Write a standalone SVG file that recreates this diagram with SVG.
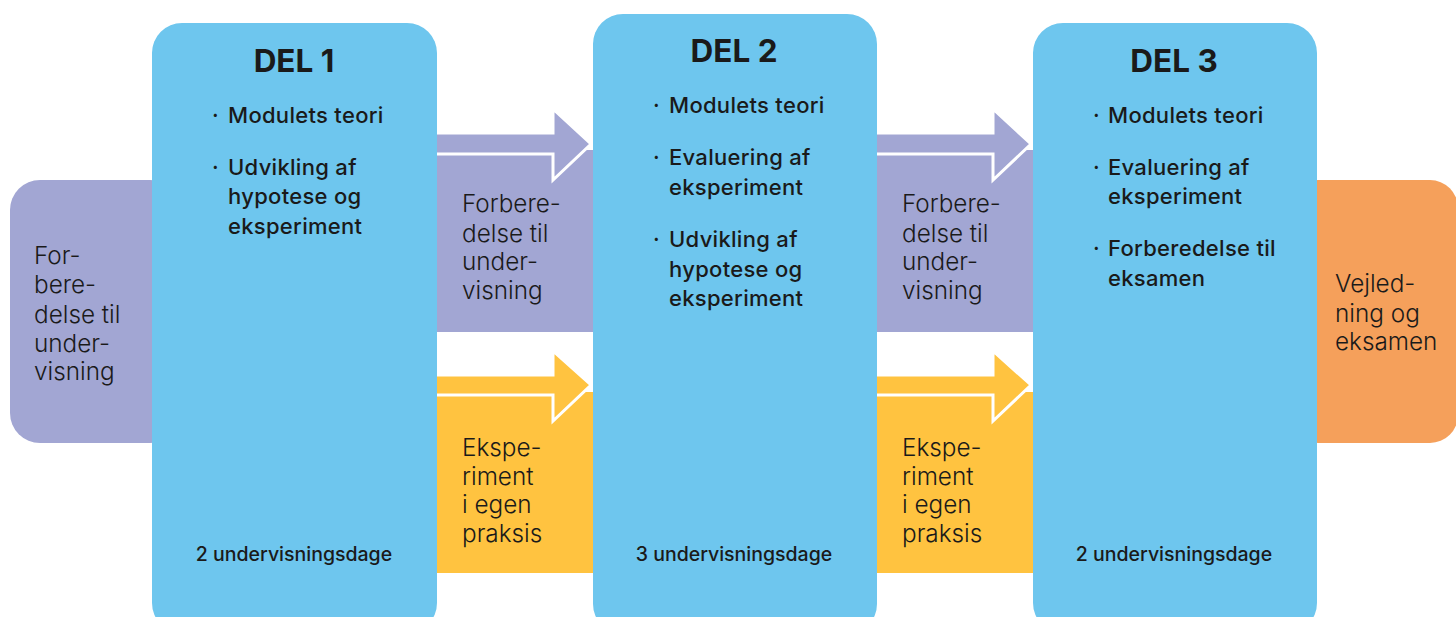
<svg xmlns="http://www.w3.org/2000/svg" width="1456" height="617" viewBox="0 0 1456 617">
<style>
.del{fill:#6EC6EE}
.pur{fill:#A2A6D3}
.yel{fill:#FFC340}
.ora{fill:#F5A05B}
.arr{stroke:#fff;stroke-width:3;stroke-linejoin:miter}
.t{font-family:Inter,"Liberation Sans",sans-serif;fill:#1a1a1a}
.title{font-size:31.5px;font-weight:700;text-anchor:middle}
.item{font-size:22px;font-weight:500;letter-spacing:0.3px}
.days{font-size:19.5px;font-weight:500;text-anchor:middle}
.lt{font-size:24.3px;font-weight:300}
</style>
<rect width="1456" height="617" fill="#fff"/>
<g id="node-pre">
<rect class="pur" x="10" y="180" width="170" height="263" rx="30"/>
<text class="t lt"><tspan x="34" y="264">For-</tspan><tspan x="34" y="293">bere-</tspan><tspan x="34" y="323">delse til</tspan><tspan x="34" y="352">under-</tspan><tspan x="34" y="380">visning</tspan></text>
</g>
<g id="node-post">
<rect class="ora" x="1290" y="180" width="168" height="263" rx="28"/>
<text class="t lt"><tspan x="1335" y="292">Vejled-</tspan><tspan x="1335" y="322">ning og</tspan><tspan x="1335" y="350">eksamen</tspan></text>
</g>
<g id="connectors">
<g id="conn-prep-1">
<rect class="pur" x="430" y="150" width="170" height="182"/>
<polygon class="pur arr" points="430,133 553,133 553,109 591,144 553,180 553,154 430,154"/>
<text class="t lt"><tspan x="462" y="212">Forbere-</tspan><tspan x="462" y="242">delse til</tspan><tspan x="462" y="270">under-</tspan><tspan x="462" y="299">visning</tspan></text>
</g>
<g id="conn-exp-1">
<rect class="yel" x="430" y="392" width="170" height="181"/>
<polygon class="yel arr" points="430,375 553,375 553,351 591,385 553,421 553,395 430,395"/>
<text class="t lt"><tspan x="462" y="456">Ekspe-</tspan><tspan x="462" y="485">riment</tspan><tspan x="462" y="513">i egen</tspan><tspan x="462" y="542">praksis</tspan></text>
</g>
<g id="conn-prep-2">
<rect class="pur" x="870" y="150" width="170" height="182"/>
<polygon class="pur arr" points="870,133 993,133 993,109 1031,144 993,180 993,154 870,154"/>
<text class="t lt"><tspan x="902" y="212">Forbere-</tspan><tspan x="902" y="242">delse til</tspan><tspan x="902" y="270">under-</tspan><tspan x="902" y="299">visning</tspan></text>
</g>
<g id="conn-exp-2">
<rect class="yel" x="870" y="392" width="170" height="181"/>
<polygon class="yel arr" points="870,375 993,375 993,351 1031,385 993,421 993,395 870,395"/>
<text class="t lt"><tspan x="902" y="456">Ekspe-</tspan><tspan x="902" y="485">riment</tspan><tspan x="902" y="513">i egen</tspan><tspan x="902" y="542">praksis</tspan></text>
</g>
</g>
<g id="node-del1">
<rect class="del" x="152" y="23" width="285" height="610" rx="30"/>
<text class="t title" x="294" y="72">DEL 1</text>
<text class="t item"><tspan x="212" y="123">·</tspan><tspan x="212" y="175">·</tspan></text>
<text class="t item"><tspan x="228" y="123">Modulets teori</tspan><tspan x="228" y="175">Udvikling af</tspan><tspan x="228" y="204">hypotese og</tspan><tspan x="228" y="234">eksperiment</tspan></text>
<text class="t days" x="294" y="561">2 undervisningsdage</text>
</g>
<g id="node-del2">
<rect class="del" x="593" y="14" width="284" height="620" rx="30"/>
<text class="t title" x="734" y="62">DEL 2</text>
<text class="t item"><tspan x="653" y="113">·</tspan><tspan x="653" y="165">·</tspan><tspan x="653" y="247">·</tspan></text>
<text class="t item"><tspan x="669" y="113">Modulets teori</tspan><tspan x="669" y="165">Evaluering af</tspan><tspan x="669" y="195">eksperiment</tspan><tspan x="669" y="247">Udvikling af</tspan><tspan x="669" y="277">hypotese og</tspan><tspan x="669" y="306">eksperiment</tspan></text>
<text class="t days" x="734" y="561">3 undervisningsdage</text>
</g>
<g id="node-del3">
<rect class="del" x="1033" y="23" width="284" height="610" rx="30"/>
<text class="t title" x="1174" y="72">DEL 3</text>
<text class="t item"><tspan x="1093" y="123">·</tspan><tspan x="1093" y="175">·</tspan><tspan x="1093" y="256">·</tspan></text>
<text class="t item"><tspan x="1108" y="123">Modulets teori</tspan><tspan x="1108" y="175">Evaluering af</tspan><tspan x="1108" y="204">eksperiment</tspan><tspan x="1108" y="256">Forberedelse til</tspan><tspan x="1108" y="286">eksamen</tspan></text>
<text class="t days" x="1174" y="561">2 undervisningsdage</text>
</g>
</svg>
